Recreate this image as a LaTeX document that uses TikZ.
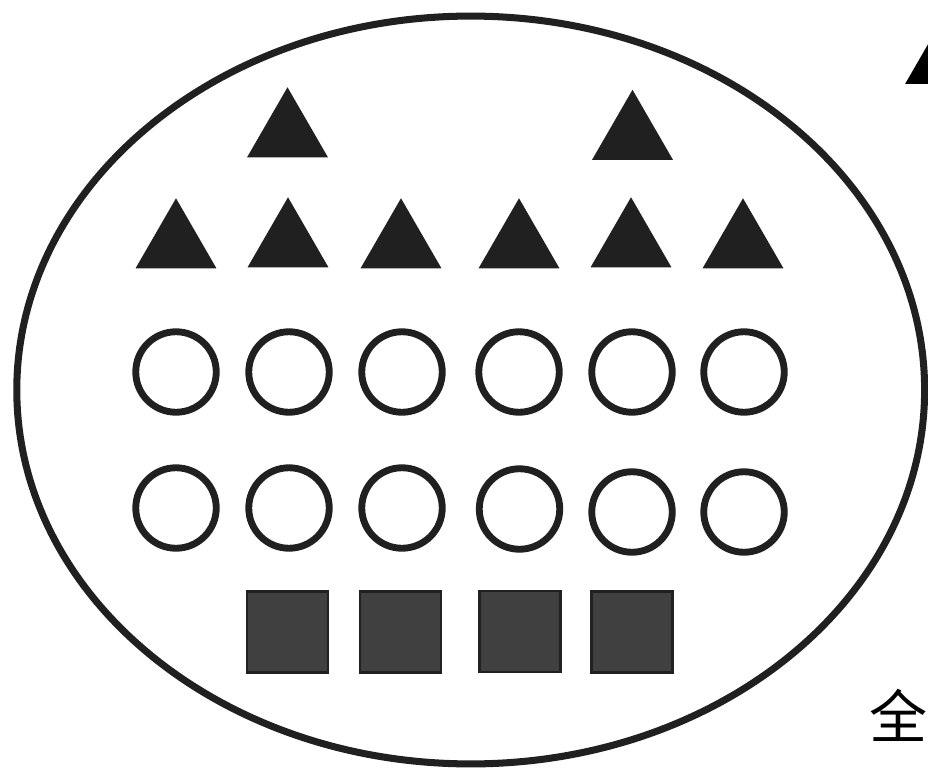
\documentclass[tikz,border=0pt]{standalone}
\usepackage{fontspec}
\newfontfamily\cjk{Noto Sans CJK SC}
\usetikzlibrary{shapes.geometric}
\definecolor{tinta}{HTML}{202020}
\definecolor{relleno}{HTML}{404040}
\begin{document}
\begin{tikzpicture}[
    x=0.02cm,
    y=-0.02cm,
    conjunto/.style={
        draw=tinta,
        ellipse,
        line width=4pt,
        inner sep=0pt,
        minimum width=18.16cm,
        minimum height=14.96cm
    },
    triangulo/.style={
        regular polygon,
        regular polygon sides=3,
        inner sep=0pt,
        minimum size=1.87cm,
        fill=tinta
    },
    circulo/.style={
        draw=tinta,
        circle,
        line width=3.9pt,
        inner sep=0pt,
        minimum size=1.61cm
    },
    cuadrado/.style={
        draw=tinta,
        line width=1.2pt,
        inner sep=0pt,
        minimum size=1.62cm,
        fill=relleno
    }
]
    \clip (0,0) rectangle (928,770);

    \node[conjunto] (todo) at (470.7,390) {};

    % fila superior
    \node[triangulo] (t1) at (287.5,134) {};
    \node[triangulo] (t2) at (632.5,136.5) {};

    \node[triangulo] (t3) at (176,245) {};
    \node[triangulo] (t4) at (288,244) {};
    \node[triangulo] (t5) at (401,245) {};
    \node[triangulo] (t6) at (519,245) {};
    \node[triangulo] (t7) at (631,244) {};
    \node[triangulo] (t8) at (743,245) {};

    % circulos
    \node[circulo] (c1) at (176,372) {};
    \node[circulo] (c2) at (289,372) {};
    \node[circulo] (c3) at (402,372) {};
    \node[circulo] (c4) at (519,372) {};
    \node[circulo] (c5) at (632,372) {};
    \node[circulo] (c6) at (744,372) {};

    \node[circulo] (c7) at (176,508) {};
    \node[circulo] (c8) at (289,508) {};
    \node[circulo] (c9) at (402,508) {};
    \node[circulo] (c10) at (519.5,509) {};
    \node[circulo] (c11) at (632,512) {};
    \node[circulo] (c12) at (744,512) {};

    % cuadrados
    \node[cuadrado] (q1) at (287.5,632) {};
    \node[cuadrado] (q2) at (400.5,632) {};
    \node[cuadrado] (q3) at (520,631.5) {};
    \node[cuadrado] (q4) at (632,632) {};

    % leyenda
    \node[triangulo,fill=black,minimum size=1.09cm] (ley) at (928.7,70.3) {};
    \node[inner sep=0pt,font=\cjk\fontsize{33}{36}\selectfont] (lab) at (898,715) {全};
\end{tikzpicture}
\end{document}
